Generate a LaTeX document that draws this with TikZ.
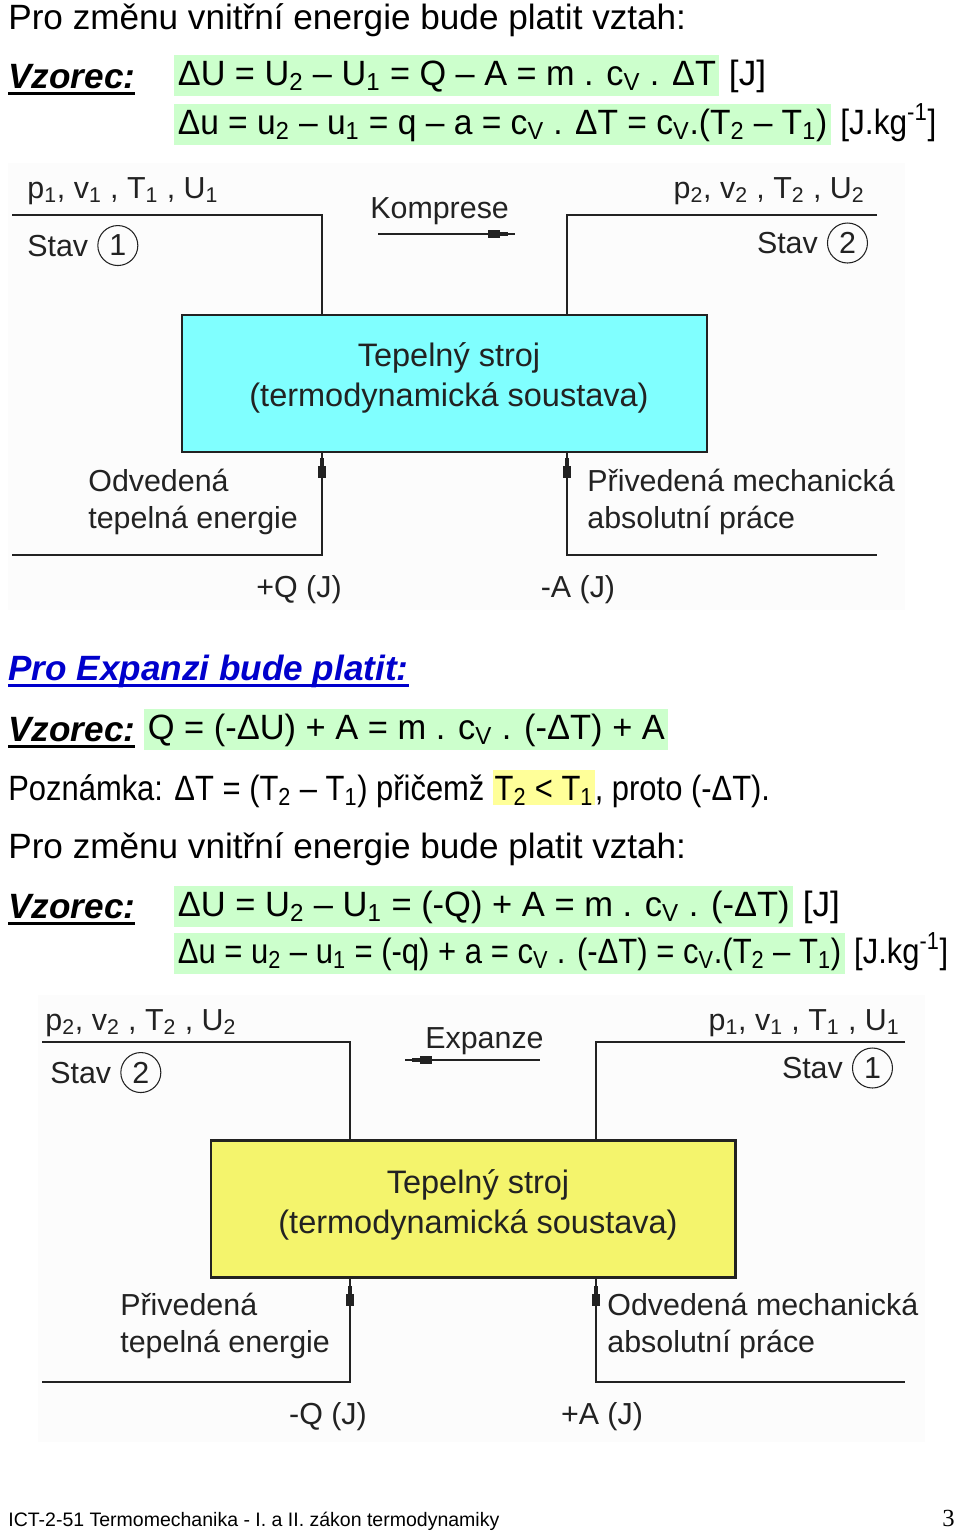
\documentclass[tikz,border=0pt]{standalone}
\usepackage{fontspec}
\setmainfont{Liberation Sans}
\newfontfamily\pagenumfont{Liberation Serif}
\usetikzlibrary{positioning,calc}
\definecolor{hlgreen}{HTML}{CCFFCC}
\definecolor{hlyellow}{HTML}{FFFF99}
\definecolor{boxcyan}{HTML}{80FFFF}
\definecolor{boxyellow}{HTML}{F4F46C}
\definecolor{headblue}{HTML}{0000CC}
\definecolor{linegrey}{HTML}{222222}
\newcommand\bodyfont{\fontsize{20}{24}\selectfont}
\newcommand\diafont{\fontsize{17.3}{21}\selectfont}
\newcommand\stroifont{\fontsize{18.5}{22.7}\selectfont}
\newcommand\fatul[1]{\leavevmode\setbox0\hbox{#1}\rlap{\rule[-4pt]{\wd0}{1.7pt}}\box0}
\newcommand\hlpart[1]{{\setlength\fboxsep{0pt}\colorbox{hlyellow}{\rule[-3pt]{0pt}{20pt}\kern1pt#1\kern1pt}}}
\newcommand\narrow[2]{\scalebox{#1}[1]{#2}}
\tikzset{flowmark/.pic={\fill[linegrey] (-6,-4) rectangle (6,4); \fill[linegrey] (6,-2) rectangle (14,2);}}

\begin{document}
\begin{tikzpicture}[x=0.02cm,y=-0.02cm,
  txt/.style={anchor=base west,inner sep=0pt,font=\bodyfont},
  hlbox/.style={txt,fill=hlgreen,inner xsep=2pt,inner ysep=1.3pt,text height=15.5pt,text depth=5pt},
  dia/.style={inner sep=0pt,font=\diafont,text=linegrey},
  ring/.style={dia,draw=linegrey,circle,line width=0.6pt,inner sep=1pt,minimum size=0.8cm},
  wire/.style={draw=linegrey,line width=1.1pt},
  machine/.style={draw=linegrey,line width=1.2pt,minimum width=10.5cm,minimum height=2.74cm},
  stroi/.style={inner sep=0pt,font=\stroifont,text=linegrey,align=center}]
  \useasboundingbox (0,0) rectangle (960,1532);
  \fill[black!1] (8,163) rectangle (905,610);
  \fill[black!1] (38,995) rectangle (925,1442);

  % komprese - vzorce
  \node[txt] (nadpis1) at (8,29) {Pro změnu vnitřní energie bude platit vztah:};
  \node[txt] (vz1) at (8,88) {\fatul{\bfseries\itshape Vzorec:}};
  \node[hlbox] (f1) at (174,85) {\narrow{0.975}{ΔU = U\textsubscript{2} – U\textsubscript{1} = Q – A = m . c\textsubscript{V} . ΔT}};
  \node[txt] (f1j) at ([xshift=5pt]f1.base east) {[J]};
  \node[hlbox] (f2) at (174,134) {\narrow{0.955}{Δu = u\textsubscript{2} – u\textsubscript{1} = q – a = c\textsubscript{V} . ΔT = c\textsubscript{V}.(T\textsubscript{2} – T\textsubscript{1})}};
  \node[txt] (f2j) at ([xshift=5pt]f2.base east) {\narrow{0.9}{[J.kg\textsuperscript{-1}]}};

  % schema komprese
  \node[dia,anchor=base west] (p1a) at (27,198) {p\textsubscript{1}, v\textsubscript{1} , T\textsubscript{1} , U\textsubscript{1}};
  \node[dia,anchor=base west] (stav1a) at (27,256) {Stav};
  \node[ring,right=5pt of stav1a] (n1a) {1};
  \node[dia,anchor=base east] (p2a) at (865,198) {p\textsubscript{2}, v\textsubscript{2} , T\textsubscript{2} , U\textsubscript{2}};
  \node[ring,anchor=east] (n2a) at (868,243) {2};
  \node[dia,left=5pt of n2a] (stav2a) {Stav};
  \node[dia,anchor=base west] (komp) at (370,218) {Komprese};
  \coordinate (ka) at (378,234);
  \coordinate (kb) at (515,234);
  \draw[wire] (ka) -- (kb);
  \pic at (494,234) {flowmark};
  \node[machine,fill=boxcyan] (stroj1) at (444.5,383.5) {};
  \node[stroi] (stroj1t) at (449,378) {Tepelný stroj\\(termodynamická soustava)};
  \coordinate (la) at (12,215);
  \coordinate (ra) at (877,215);
  \coordinate (lka) at (322,215);
  \coordinate (rka) at (567,215);
  \draw[wire] (la) -- (lka) -- (lka |- stroj1.north);
  \draw[wire] (ra) -- (rka) -- (rka |- stroj1.north);
  \coordinate (lqa) at (12,555);
  \coordinate (rqa) at (877,555);
  \draw[wire] (stroj1.south -| lka) -- (lka |- lqa) -- (lqa);
  \draw[wire] (stroj1.south -| rka) -- (rka |- rqa) -- (rqa);
  \pic[rotate=90] at (322,472) {flowmark};
  \pic[rotate=90] at (567,472) {flowmark};
  \node[dia,anchor=base west,align=left] (odv1) at (88,528) {Odvedená\\tepelná energie};
  \node[dia,anchor=base west,align=left] (priv1) at (587,528) {Přivedená mechanická\\absolutní práce};
  \node[dia] (qa) at (299,590) {+Q (J)};
  \node[dia] (aa) at (578,590) {-A (J)};

  % expanze - vzorce
  \node[txt,font=\bodyfont\bfseries\itshape,text=headblue] (nadpis2) at (8,680) {\fatul{Pro Expanzi bude platit:}};
  \node[txt] (vz2) at (8,741) {\fatul{\bfseries\itshape Vzorec:}};
  \node[hlbox] (f3) at (144,739) {\narrow{0.98}{Q = (-ΔU) + A = m . c\textsubscript{V} . (-ΔT) + A}};
  \node[txt] (pozn) at (8,800) {\narrow{0.88}{Poznámka: ΔT = (T\textsubscript{2} – T\textsubscript{1}) přičemž \hlpart{T\textsubscript{2} < T\textsubscript{1}}, proto (-ΔT).}};
  \node[txt] (nadpis3) at (8,858) {Pro změnu vnitřní energie bude platit vztah:};
  \node[txt] (vz3) at (8,918) {\fatul{\bfseries\itshape Vzorec:}};
  \node[hlbox] (f4) at (174,916) {\narrow{0.982}{ΔU = U\textsubscript{2} – U\textsubscript{1} = (-Q) + A = m . c\textsubscript{V} . (-ΔT)}};
  \node[txt] (f4j) at ([xshift=5pt]f4.base east) {[J]};
  \node[hlbox] (f5) at (174,963) {\narrow{0.883}{Δu = u\textsubscript{2} – u\textsubscript{1} = (-q) + a = c\textsubscript{V} . (-ΔT) = c\textsubscript{V}.(T\textsubscript{2} – T\textsubscript{1})}};
  \node[txt] (f5j) at ([xshift=5pt]f5.base east) {\narrow{0.88}{[J.kg\textsuperscript{-1}]}};

  % schema expanze
  \node[dia,anchor=base west] (p2b) at (45,1030) {p\textsubscript{2}, v\textsubscript{2} , T\textsubscript{2} , U\textsubscript{2}};
  \node[dia,anchor=base west] (stav2b) at (50,1083) {Stav};
  \node[ring,right=5pt of stav2b] (n2b) {2};
  \node[dia,anchor=base east] (p1b) at (900,1030) {p\textsubscript{1}, v\textsubscript{1} , T\textsubscript{1} , U\textsubscript{1}};
  \node[ring,anchor=east] (n1b) at (893,1068) {1};
  \node[dia,left=5pt of n1b] (stav1b) {Stav};
  \node[dia,anchor=base west] (exp) at (425,1048) {Expanze};
  \coordinate (ea) at (405,1060);
  \coordinate (eb) at (540,1060);
  \draw[wire] (ea) -- (eb);
  \pic[rotate=180] at (426,1060) {flowmark};
  \node[machine,fill=boxyellow] (stroj2) at (473,1209) {};
  \node[stroi] (stroj2t) at (478,1205) {Tepelný stroj\\(termodynamická soustava)};
  \coordinate (lb) at (42,1042);
  \coordinate (rb) at (905,1042);
  \coordinate (lkb) at (350,1042);
  \coordinate (rkb) at (596,1042);
  \draw[wire] (lb) -- (lkb) -- (lkb |- stroj2.north);
  \draw[wire] (rb) -- (rkb) -- (rkb |- stroj2.north);
  \coordinate (lqb) at (42,1382);
  \coordinate (rqb) at (905,1382);
  \draw[wire] (stroj2.south -| lkb) -- (lkb |- lqb) -- (lqb);
  \draw[wire] (stroj2.south -| rkb) -- (rkb |- rqb) -- (rqb);
  \pic[rotate=90] at (350,1300) {flowmark};
  \pic[rotate=90] at (596,1300) {flowmark};
  \node[dia,anchor=base west,align=left] (priv2) at (120,1352) {Přivedená\\tepelná energie};
  \node[dia,anchor=base west,align=left] (odv2) at (607,1352) {Odvedená mechanická\\absolutní práce};
  \node[dia] (qb) at (328,1417) {-Q (J)};
  \node[dia] (ab) at (602,1417) {+A (J)};

  % paticka
  \node[txt,font=\fontsize{11.1}{13}\selectfont] (pata) at (8,1526) {ICT-2-51 Termomechanika - I. a II. zákon termodynamiky};
  \node[txt,anchor=base east,font=\fontsize{14}{16}\pagenumfont] (strana) at (955,1526) {3};
\end{tikzpicture}
\end{document}
